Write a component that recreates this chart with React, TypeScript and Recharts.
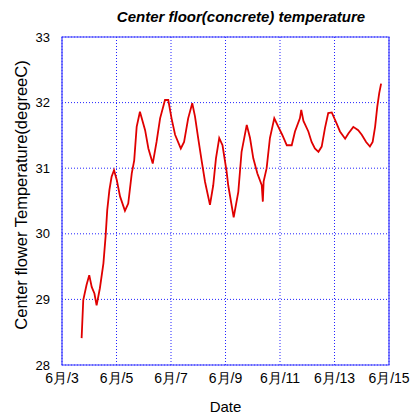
import { LineChart, Line, XAxis, YAxis, CartesianGrid, ReferenceArea } from "recharts";

// days in June (fractional) and floor temperature readings (degC)
const days = [
  3.72, 3.78, 3.9, 4.0, 4.09, 4.19, 4.27, 4.39, 4.52, 4.6, 4.66, 4.74, 4.82, 4.91,
  5.01, 5.13, 5.31, 5.43, 5.56, 5.65, 5.74, 5.86, 6.05, 6.17, 6.33, 6.47, 6.6, 6.78,
  6.9, 7.02, 7.15, 7.36, 7.48, 7.63, 7.78, 7.88, 8.0, 8.13, 8.25, 8.43, 8.55, 8.65,
  8.77, 8.89, 9.04, 9.1, 9.3, 9.47, 9.59, 9.78, 9.9, 10.02, 10.17, 10.33, 10.37, 10.4,
  10.51, 10.63, 10.79, 10.94, 11.08, 11.25, 11.43, 11.55, 11.73, 11.78, 11.86, 12.04,
  12.16, 12.28, 12.41, 12.53, 12.65, 12.77, 12.9, 13.08, 13.2, 13.39, 13.51, 13.69,
  13.87, 14.0, 14.16, 14.3, 14.4, 14.49, 14.57, 14.64, 14.71,
];
const temps = [
  28.41, 28.99, 29.22, 29.37, 29.19, 29.09, 28.91, 29.17, 29.55, 29.96, 30.36, 30.67, 30.87, 30.97,
  30.82, 30.57, 30.35, 30.46, 30.92, 31.12, 31.63, 31.86, 31.58, 31.3, 31.07, 31.4, 31.76, 32.04,
  32.04, 31.76, 31.51, 31.3, 31.4, 31.76, 31.99, 31.79, 31.45, 31.1, 30.79, 30.44, 30.74, 31.15,
  31.46, 31.35, 30.95, 30.74, 30.25, 30.64, 31.25, 31.66, 31.46, 31.15, 30.92, 30.74, 30.49, 30.8,
  31.0, 31.46, 31.76, 31.63, 31.51, 31.35, 31.35, 31.56, 31.76, 31.89, 31.72, 31.56,
  31.4, 31.3, 31.25, 31.33, 31.61, 31.84, 31.85, 31.68, 31.56, 31.45, 31.53, 31.63,
  31.58, 31.51, 31.4, 31.33, 31.4, 31.63, 31.94, 32.14, 32.29,
];
const xTicks = [3, 5, 7, 9, 11, 13, 15];
const yTicks = [28, 29, 30, 31, 32, 33];

const data = days.map((d, i) => ({ day: d, temp: temps[i] }));

const font = "'Liberation Sans', Arial, sans-serif";

export default function App() {
  return (
    <div style={{ position: "absolute", left: 0, top: 0, width: 416, height: 414, background: "#fff", fontFamily: font }}>
      <LineChart width={416} height={414} data={data} margin={{ top: 37, right: 27, bottom: 29, left: 0 }}>
        <CartesianGrid stroke="#2222ff" strokeDasharray="1 2" />
        <XAxis
          dataKey="day"
          type="number"
          domain={[3, 15]}
          ticks={xTicks}
          tickFormatter={(d) => `6月/${d}`}
          tickLine={false}
          axisLine={false}
          height={20}
          tickMargin={2}
          tick={{ fill: "#000", fontSize: 14, fontFamily: font }}
          interval={0}
        />
        <YAxis
          type="number"
          domain={[28, 33]}
          ticks={yTicks}
          tickLine={false}
          axisLine={false}
          width={62}
          tickMargin={6}
          tick={{ fill: "#000", fontSize: 13, fontFamily: font }}
        />
        <ReferenceArea x1={3} x2={15} y1={28} y2={33} fill="none" stroke="#3a3aff" strokeWidth={1.2} ifOverflow="visible" />
        <Line type="linear" dataKey="temp" stroke="#e00000" strokeWidth={1.8} dot={false} isAnimationActive={false} />
      </LineChart>
      <div
        style={{
          position: "absolute",
          left: 241,
          top: 8,
          transform: "translateX(-50%)",
          whiteSpace: "nowrap",
          fontSize: 15,
          fontWeight: "bold",
          fontStyle: "italic",
        }}
      >
        Center floor(concrete) temperature
      </div>
      <div style={{ position: "absolute", left: 62, width: 327, top: 398, textAlign: "center", fontSize: 15 }}>Date</div>
      <div
        style={{
          position: "absolute",
          left: 21,
          top: 195,
          transform: "translate(-50%, -50%) rotate(-90deg)",
          whiteSpace: "nowrap",
          fontSize: 16.5,
        }}
      >
        Center flower Temperature(degreeC)
      </div>
    </div>
  );
}
